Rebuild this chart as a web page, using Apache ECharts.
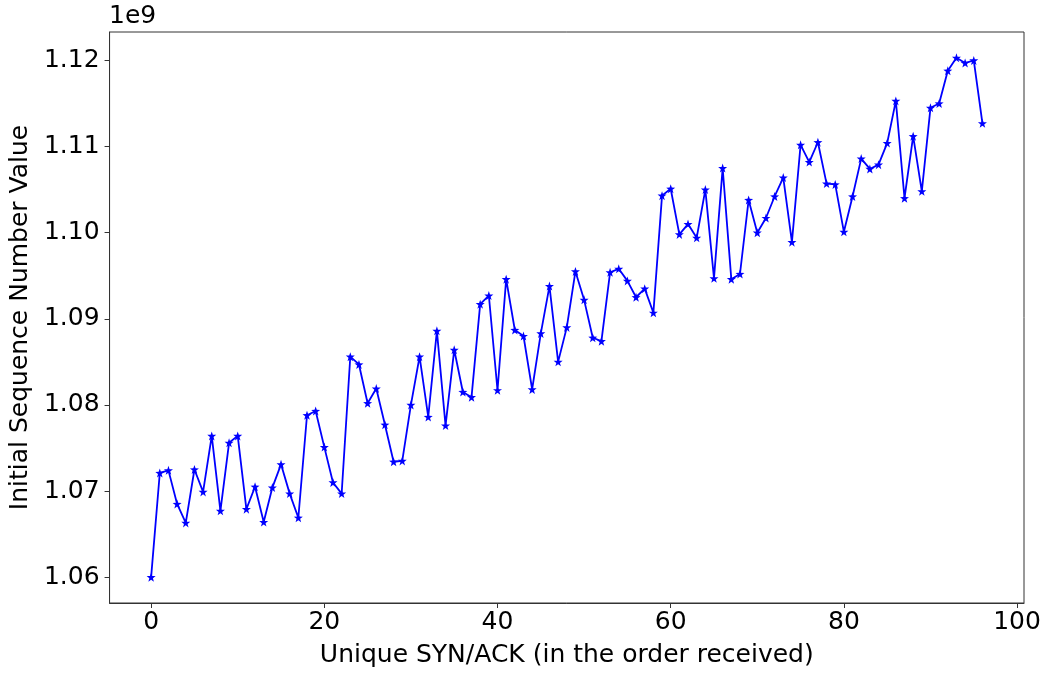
<!DOCTYPE html>
<html>
<head>
<meta charset="utf-8">
<script src="https://cdn.jsdelivr.net/npm/echarts@6/dist/echarts.min.js"></script>
<style>
  html, body { margin: 0; padding: 0; background: #fff; }
  #myChart { width: 1047px; height: 673px; }
</style>
</head>
<body>
<div id="myChart"></div>
<script>
  // initial sequence number of each SYN/ACK, in units of 1e9
  var isnValues = [
    1.0600, 1.0721, 1.0724, 1.0685, 1.0663, 1.0725, 1.0699, 1.0764, 1.0677, 1.0756,
    1.0764, 1.0679, 1.0705, 1.0664, 1.0704, 1.0731, 1.0697, 1.0669, 1.0788, 1.0793,
    1.0751, 1.0710, 1.0697, 1.0856, 1.0847, 1.0802, 1.0819, 1.0777, 1.0734, 1.0735,
    1.0800, 1.0856, 1.0786, 1.0886, 1.0776, 1.0864, 1.0815, 1.0809, 1.0917, 1.0927,
    1.0817, 1.0946, 1.0887, 1.0880, 1.0818, 1.0883, 1.0938, 1.0850, 1.0890, 1.0955,
    1.0922, 1.0878, 1.0874, 1.0954, 1.0958, 1.0944, 1.0925, 1.0935, 1.0907, 1.1043,
    1.1051, 1.0998, 1.1010, 1.0994, 1.1050, 1.0947, 1.1075, 1.0946, 1.0952, 1.1038,
    1.1000, 1.1017, 1.1042, 1.1064, 1.0989, 1.1102, 1.1082, 1.1105, 1.1057, 1.1056,
    1.1001, 1.1042, 1.1086, 1.1074, 1.1079, 1.1104, 1.1153, 1.1040, 1.1112, 1.1048,
    1.1145, 1.1150, 1.1188, 1.1203, 1.1197, 1.1200, 1.1127
  ];
  var xTicks = [0, 20, 40, 60, 80, 100];
  var yTicks = [1.06, 1.07, 1.08, 1.09, 1.10, 1.11, 1.12];

  var font = 'DejaVu Sans';
  var starPath = 'path://M0,-10 L2.35,-3.24 L9.51,-3.09 L3.8,1.24 L5.88,8.09 L0,4 L-5.88,8.09 L-3.8,1.24 L-9.51,-3.09 L-2.35,-3.24 Z';

  var points = [];
  for (var i = 0; i < isnValues.length; i++) {
    points.push([i, isnValues[i]]);
  }

  var myChart = echarts.init(document.getElementById('myChart'));
  myChart.setOption({
    animation: false,
    grid: {
      left: 108,
      right: 23,
      top: 32,
      bottom: 65,
      show: true,
      borderColor: '#333',
      borderWidth: 1
    },
    graphic: [{
      type: 'text',
      left: 109,
      top: 4,
      style: { text: '1e9', font: '25px "DejaVu Sans"', fill: '#000' }
    }],
    xAxis: {
      type: 'value',
      min: -4.8,
      max: 100.8,
      name: 'Unique SYN/ACK (in the order received)',
      nameLocation: 'middle',
      nameGap: 40,
      nameTextStyle: { fontFamily: font, fontSize: 25, color: '#000' },
      axisLine: { show: true, onZero: false, lineStyle: { color: '#333', width: 1 } },
      splitLine: { show: false },
      axisTick: { show: true, customValues: xTicks, length: 5, lineStyle: { color: '#333' } },
      axisLabel: {
        customValues: xTicks,
        margin: 7,
        fontFamily: font,
        fontSize: 25,
        color: '#000'
      }
    },
    yAxis: {
      type: 'value',
      min: 1.057,
      max: 1.1233,
      name: 'Initial Sequence Number Value',
      nameLocation: 'middle',
      nameGap: 61,
      nameTextStyle: { fontFamily: font, fontSize: 25, color: '#000' },
      axisLine: { show: true, onZero: false, lineStyle: { color: '#333', width: 1 } },
      splitLine: { show: false },
      axisTick: { show: true, customValues: yTicks, length: 5, lineStyle: { color: '#333' } },
      axisLabel: {
        customValues: yTicks,
        margin: 10,
        fontFamily: font,
        fontSize: 25,
        color: '#000',
        formatter: function (v) {
          return v.toFixed(2);
        }
      }
    },
    series: [{
      type: 'line',
      data: points,
      symbol: starPath,
      symbolSize: 9,
      showAllSymbol: true,
      lineStyle: { color: '#0000ff', width: 1.8 },
      itemStyle: { color: '#0000ff' }
    }]
  });
</script>
</body>
</html>
